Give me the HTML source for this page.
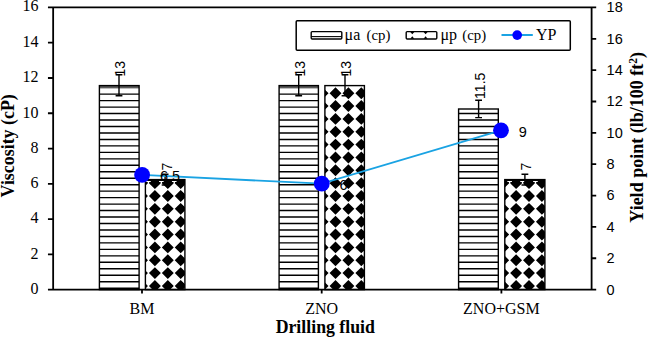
<!DOCTYPE html>
<html><head><meta charset="utf-8"><style>
html,body{margin:0;padding:0;background:#fff;}
svg{display:block;}
.serif{font-family:"Liberation Serif",serif;}
.sans{font-family:"Liberation Sans",sans-serif;}
</style></head><body>
<svg width="648" height="338" viewBox="0 0 648 338">
<defs>
<clipPath id="cp0"><rect x="145.40" y="179.60" width="39.50" height="110.00"/></clipPath>
<clipPath id="cp1"><rect x="324.90" y="85.60" width="39.50" height="204.00"/></clipPath>
<clipPath id="cp2"><rect x="504.80" y="179.60" width="40.10" height="110.00"/></clipPath>
</defs>
<rect width="648" height="338" fill="#fff"/>
<rect x="99.40" y="85.60" width="39.70" height="204.00" fill="#fff"/>
<rect x="99.40" y="85.60" width="39.70" height="2.80" fill="#5a5a5a"/>
<path d="M99.40 94.17H139.10M99.40 100.63H139.10M99.40 107.10H139.10M99.40 113.57H139.10M99.40 120.03H139.10M99.40 126.50H139.10M99.40 132.97H139.10M99.40 139.44H139.10M99.40 145.90H139.10M99.40 152.37H139.10M99.40 158.84H139.10M99.40 165.30H139.10M99.40 171.77H139.10M99.40 178.24H139.10M99.40 184.70H139.10M99.40 191.17H139.10M99.40 197.64H139.10M99.40 204.11H139.10M99.40 210.57H139.10M99.40 217.04H139.10M99.40 223.51H139.10M99.40 229.97H139.10M99.40 236.44H139.10M99.40 242.91H139.10M99.40 249.38H139.10M99.40 255.84H139.10M99.40 262.31H139.10M99.40 268.78H139.10M99.40 275.24H139.10M99.40 281.71H139.10M99.40 288.18H139.10" stroke="#000" stroke-width="1.4" fill="none"/>
<rect x="99.40" y="85.60" width="39.70" height="204.00" fill="none" stroke="#000" stroke-width="1.4"/>
<rect x="279.10" y="85.60" width="39.30" height="204.00" fill="#fff"/>
<rect x="279.10" y="85.60" width="39.30" height="2.80" fill="#5a5a5a"/>
<path d="M279.10 94.17H318.40M279.10 100.63H318.40M279.10 107.10H318.40M279.10 113.57H318.40M279.10 120.03H318.40M279.10 126.50H318.40M279.10 132.97H318.40M279.10 139.44H318.40M279.10 145.90H318.40M279.10 152.37H318.40M279.10 158.84H318.40M279.10 165.30H318.40M279.10 171.77H318.40M279.10 178.24H318.40M279.10 184.70H318.40M279.10 191.17H318.40M279.10 197.64H318.40M279.10 204.11H318.40M279.10 210.57H318.40M279.10 217.04H318.40M279.10 223.51H318.40M279.10 229.97H318.40M279.10 236.44H318.40M279.10 242.91H318.40M279.10 249.38H318.40M279.10 255.84H318.40M279.10 262.31H318.40M279.10 268.78H318.40M279.10 275.24H318.40M279.10 281.71H318.40M279.10 288.18H318.40" stroke="#000" stroke-width="1.4" fill="none"/>
<rect x="279.10" y="85.60" width="39.30" height="204.00" fill="none" stroke="#000" stroke-width="1.4"/>
<rect x="458.60" y="109.00" width="39.70" height="180.60" fill="#fff"/>
<path d="M458.60 113.57H498.30M458.60 120.03H498.30M458.60 126.50H498.30M458.60 132.97H498.30M458.60 139.44H498.30M458.60 145.90H498.30M458.60 152.37H498.30M458.60 158.84H498.30M458.60 165.30H498.30M458.60 171.77H498.30M458.60 178.24H498.30M458.60 184.70H498.30M458.60 191.17H498.30M458.60 197.64H498.30M458.60 204.11H498.30M458.60 210.57H498.30M458.60 217.04H498.30M458.60 223.51H498.30M458.60 229.97H498.30M458.60 236.44H498.30M458.60 242.91H498.30M458.60 249.38H498.30M458.60 255.84H498.30M458.60 262.31H498.30M458.60 268.78H498.30M458.60 275.24H498.30M458.60 281.71H498.30M458.60 288.18H498.30" stroke="#000" stroke-width="1.4" fill="none"/>
<rect x="458.60" y="109.00" width="39.70" height="180.60" fill="none" stroke="#000" stroke-width="1.4"/>
<rect x="145.40" y="179.60" width="39.50" height="110.00" fill="#fff"/>
<path clip-path="url(#cp0)" d="M142.00 177.20L147.95 183.15L142.00 189.10L136.05 183.15ZM142.00 190.05L147.95 196.00L142.00 201.95L136.05 196.00ZM142.00 202.90L147.95 208.85L142.00 214.80L136.05 208.85ZM142.00 215.75L147.95 221.70L142.00 227.65L136.05 221.70ZM142.00 228.60L147.95 234.55L142.00 240.50L136.05 234.55ZM142.00 241.45L147.95 247.40L142.00 253.35L136.05 247.40ZM142.00 254.30L147.95 260.25L142.00 266.20L136.05 260.25ZM142.00 267.15L147.95 273.10L142.00 279.05L136.05 273.10ZM142.00 280.00L147.95 285.95L142.00 291.90L136.05 285.95ZM154.90 177.20L160.85 183.15L154.90 189.10L148.95 183.15ZM154.90 190.05L160.85 196.00L154.90 201.95L148.95 196.00ZM154.90 202.90L160.85 208.85L154.90 214.80L148.95 208.85ZM154.90 215.75L160.85 221.70L154.90 227.65L148.95 221.70ZM154.90 228.60L160.85 234.55L154.90 240.50L148.95 234.55ZM154.90 241.45L160.85 247.40L154.90 253.35L148.95 247.40ZM154.90 254.30L160.85 260.25L154.90 266.20L148.95 260.25ZM154.90 267.15L160.85 273.10L154.90 279.05L148.95 273.10ZM154.90 280.00L160.85 285.95L154.90 291.90L148.95 285.95ZM167.80 177.20L173.75 183.15L167.80 189.10L161.85 183.15ZM167.80 190.05L173.75 196.00L167.80 201.95L161.85 196.00ZM167.80 202.90L173.75 208.85L167.80 214.80L161.85 208.85ZM167.80 215.75L173.75 221.70L167.80 227.65L161.85 221.70ZM167.80 228.60L173.75 234.55L167.80 240.50L161.85 234.55ZM167.80 241.45L173.75 247.40L167.80 253.35L161.85 247.40ZM167.80 254.30L173.75 260.25L167.80 266.20L161.85 260.25ZM167.80 267.15L173.75 273.10L167.80 279.05L161.85 273.10ZM167.80 280.00L173.75 285.95L167.80 291.90L161.85 285.95ZM180.70 177.20L186.65 183.15L180.70 189.10L174.75 183.15ZM180.70 190.05L186.65 196.00L180.70 201.95L174.75 196.00ZM180.70 202.90L186.65 208.85L180.70 214.80L174.75 208.85ZM180.70 215.75L186.65 221.70L180.70 227.65L174.75 221.70ZM180.70 228.60L186.65 234.55L180.70 240.50L174.75 234.55ZM180.70 241.45L186.65 247.40L180.70 253.35L174.75 247.40ZM180.70 254.30L186.65 260.25L180.70 266.20L174.75 260.25ZM180.70 267.15L186.65 273.10L180.70 279.05L174.75 273.10ZM180.70 280.00L186.65 285.95L180.70 291.90L174.75 285.95Z" fill="#000"/>
<rect x="145.40" y="179.60" width="39.50" height="3.5" fill="#000"/>
<path clip-path="url(#cp0)" d="M146.15 180.9h4.6v1.1h-1.6v1.6h-1.4v-1.6h-1.6ZM159.05 180.9h4.6v1.1h-1.6v1.6h-1.4v-1.6h-1.6ZM171.95 180.9h4.6v1.1h-1.6v1.6h-1.4v-1.6h-1.6Z" fill="#fff"/>
<rect x="145.40" y="179.60" width="39.50" height="110.00" fill="none" stroke="#000" stroke-width="1.4"/>
<rect x="324.90" y="85.60" width="39.50" height="204.00" fill="#fff"/>
<path clip-path="url(#cp1)" d="M322.60 74.40L328.55 80.35L322.60 86.30L316.65 80.35ZM322.60 87.25L328.55 93.20L322.60 99.15L316.65 93.20ZM322.60 100.10L328.55 106.05L322.60 112.00L316.65 106.05ZM322.60 112.95L328.55 118.90L322.60 124.85L316.65 118.90ZM322.60 125.80L328.55 131.75L322.60 137.70L316.65 131.75ZM322.60 138.65L328.55 144.60L322.60 150.55L316.65 144.60ZM322.60 151.50L328.55 157.45L322.60 163.40L316.65 157.45ZM322.60 164.35L328.55 170.30L322.60 176.25L316.65 170.30ZM322.60 177.20L328.55 183.15L322.60 189.10L316.65 183.15ZM322.60 190.05L328.55 196.00L322.60 201.95L316.65 196.00ZM322.60 202.90L328.55 208.85L322.60 214.80L316.65 208.85ZM322.60 215.75L328.55 221.70L322.60 227.65L316.65 221.70ZM322.60 228.60L328.55 234.55L322.60 240.50L316.65 234.55ZM322.60 241.45L328.55 247.40L322.60 253.35L316.65 247.40ZM322.60 254.30L328.55 260.25L322.60 266.20L316.65 260.25ZM322.60 267.15L328.55 273.10L322.60 279.05L316.65 273.10ZM322.60 280.00L328.55 285.95L322.60 291.90L316.65 285.95ZM335.50 74.40L341.45 80.35L335.50 86.30L329.55 80.35ZM335.50 87.25L341.45 93.20L335.50 99.15L329.55 93.20ZM335.50 100.10L341.45 106.05L335.50 112.00L329.55 106.05ZM335.50 112.95L341.45 118.90L335.50 124.85L329.55 118.90ZM335.50 125.80L341.45 131.75L335.50 137.70L329.55 131.75ZM335.50 138.65L341.45 144.60L335.50 150.55L329.55 144.60ZM335.50 151.50L341.45 157.45L335.50 163.40L329.55 157.45ZM335.50 164.35L341.45 170.30L335.50 176.25L329.55 170.30ZM335.50 177.20L341.45 183.15L335.50 189.10L329.55 183.15ZM335.50 190.05L341.45 196.00L335.50 201.95L329.55 196.00ZM335.50 202.90L341.45 208.85L335.50 214.80L329.55 208.85ZM335.50 215.75L341.45 221.70L335.50 227.65L329.55 221.70ZM335.50 228.60L341.45 234.55L335.50 240.50L329.55 234.55ZM335.50 241.45L341.45 247.40L335.50 253.35L329.55 247.40ZM335.50 254.30L341.45 260.25L335.50 266.20L329.55 260.25ZM335.50 267.15L341.45 273.10L335.50 279.05L329.55 273.10ZM335.50 280.00L341.45 285.95L335.50 291.90L329.55 285.95ZM348.40 74.40L354.35 80.35L348.40 86.30L342.45 80.35ZM348.40 87.25L354.35 93.20L348.40 99.15L342.45 93.20ZM348.40 100.10L354.35 106.05L348.40 112.00L342.45 106.05ZM348.40 112.95L354.35 118.90L348.40 124.85L342.45 118.90ZM348.40 125.80L354.35 131.75L348.40 137.70L342.45 131.75ZM348.40 138.65L354.35 144.60L348.40 150.55L342.45 144.60ZM348.40 151.50L354.35 157.45L348.40 163.40L342.45 157.45ZM348.40 164.35L354.35 170.30L348.40 176.25L342.45 170.30ZM348.40 177.20L354.35 183.15L348.40 189.10L342.45 183.15ZM348.40 190.05L354.35 196.00L348.40 201.95L342.45 196.00ZM348.40 202.90L354.35 208.85L348.40 214.80L342.45 208.85ZM348.40 215.75L354.35 221.70L348.40 227.65L342.45 221.70ZM348.40 228.60L354.35 234.55L348.40 240.50L342.45 234.55ZM348.40 241.45L354.35 247.40L348.40 253.35L342.45 247.40ZM348.40 254.30L354.35 260.25L348.40 266.20L342.45 260.25ZM348.40 267.15L354.35 273.10L348.40 279.05L342.45 273.10ZM348.40 280.00L354.35 285.95L348.40 291.90L342.45 285.95ZM361.30 74.40L367.25 80.35L361.30 86.30L355.35 80.35ZM361.30 87.25L367.25 93.20L361.30 99.15L355.35 93.20ZM361.30 100.10L367.25 106.05L361.30 112.00L355.35 106.05ZM361.30 112.95L367.25 118.90L361.30 124.85L355.35 118.90ZM361.30 125.80L367.25 131.75L361.30 137.70L355.35 131.75ZM361.30 138.65L367.25 144.60L361.30 150.55L355.35 144.60ZM361.30 151.50L367.25 157.45L361.30 163.40L355.35 157.45ZM361.30 164.35L367.25 170.30L361.30 176.25L355.35 170.30ZM361.30 177.20L367.25 183.15L361.30 189.10L355.35 183.15ZM361.30 190.05L367.25 196.00L361.30 201.95L355.35 196.00ZM361.30 202.90L367.25 208.85L361.30 214.80L355.35 208.85ZM361.30 215.75L367.25 221.70L361.30 227.65L355.35 221.70ZM361.30 228.60L367.25 234.55L361.30 240.50L355.35 234.55ZM361.30 241.45L367.25 247.40L361.30 253.35L355.35 247.40ZM361.30 254.30L367.25 260.25L361.30 266.20L355.35 260.25ZM361.30 267.15L367.25 273.10L361.30 279.05L355.35 273.10ZM361.30 280.00L367.25 285.95L361.30 291.90L355.35 285.95Z" fill="#000"/>
<rect x="324.90" y="85.60" width="39.50" height="204.00" fill="none" stroke="#000" stroke-width="1.4"/>
<rect x="504.80" y="179.60" width="40.10" height="110.00" fill="#fff"/>
<path clip-path="url(#cp2)" d="M503.20 177.20L509.15 183.15L503.20 189.10L497.25 183.15ZM503.20 190.05L509.15 196.00L503.20 201.95L497.25 196.00ZM503.20 202.90L509.15 208.85L503.20 214.80L497.25 208.85ZM503.20 215.75L509.15 221.70L503.20 227.65L497.25 221.70ZM503.20 228.60L509.15 234.55L503.20 240.50L497.25 234.55ZM503.20 241.45L509.15 247.40L503.20 253.35L497.25 247.40ZM503.20 254.30L509.15 260.25L503.20 266.20L497.25 260.25ZM503.20 267.15L509.15 273.10L503.20 279.05L497.25 273.10ZM503.20 280.00L509.15 285.95L503.20 291.90L497.25 285.95ZM516.10 177.20L522.05 183.15L516.10 189.10L510.15 183.15ZM516.10 190.05L522.05 196.00L516.10 201.95L510.15 196.00ZM516.10 202.90L522.05 208.85L516.10 214.80L510.15 208.85ZM516.10 215.75L522.05 221.70L516.10 227.65L510.15 221.70ZM516.10 228.60L522.05 234.55L516.10 240.50L510.15 234.55ZM516.10 241.45L522.05 247.40L516.10 253.35L510.15 247.40ZM516.10 254.30L522.05 260.25L516.10 266.20L510.15 260.25ZM516.10 267.15L522.05 273.10L516.10 279.05L510.15 273.10ZM516.10 280.00L522.05 285.95L516.10 291.90L510.15 285.95ZM529.00 177.20L534.95 183.15L529.00 189.10L523.05 183.15ZM529.00 190.05L534.95 196.00L529.00 201.95L523.05 196.00ZM529.00 202.90L534.95 208.85L529.00 214.80L523.05 208.85ZM529.00 215.75L534.95 221.70L529.00 227.65L523.05 221.70ZM529.00 228.60L534.95 234.55L529.00 240.50L523.05 234.55ZM529.00 241.45L534.95 247.40L529.00 253.35L523.05 247.40ZM529.00 254.30L534.95 260.25L529.00 266.20L523.05 260.25ZM529.00 267.15L534.95 273.10L529.00 279.05L523.05 273.10ZM529.00 280.00L534.95 285.95L529.00 291.90L523.05 285.95ZM541.90 177.20L547.85 183.15L541.90 189.10L535.95 183.15ZM541.90 190.05L547.85 196.00L541.90 201.95L535.95 196.00ZM541.90 202.90L547.85 208.85L541.90 214.80L535.95 208.85ZM541.90 215.75L547.85 221.70L541.90 227.65L535.95 221.70ZM541.90 228.60L547.85 234.55L541.90 240.50L535.95 234.55ZM541.90 241.45L547.85 247.40L541.90 253.35L535.95 247.40ZM541.90 254.30L547.85 260.25L541.90 266.20L535.95 260.25ZM541.90 267.15L547.85 273.10L541.90 279.05L535.95 273.10ZM541.90 280.00L547.85 285.95L541.90 291.90L535.95 285.95Z" fill="#000"/>
<rect x="504.80" y="179.60" width="40.10" height="3.5" fill="#000"/>
<path clip-path="url(#cp2)" d="M507.35 180.9h4.6v1.1h-1.6v1.6h-1.4v-1.6h-1.6ZM520.25 180.9h4.6v1.1h-1.6v1.6h-1.4v-1.6h-1.6ZM533.15 180.9h4.6v1.1h-1.6v1.6h-1.4v-1.6h-1.6Z" fill="#fff"/>
<rect x="504.80" y="179.60" width="40.10" height="110.00" fill="none" stroke="#000" stroke-width="1.4"/>
<path d="M119.00 74.80V95.70M115.60 74.80H122.40M115.60 95.70H122.40" stroke="#000" stroke-width="1.4" fill="none"/>
<path d="M298.70 74.80V95.70M295.30 74.80H302.10M295.30 95.70H302.10" stroke="#000" stroke-width="1.4" fill="none"/>
<path d="M478.60 100.30V117.60M475.20 100.30H482.00M475.20 117.60H482.00" stroke="#000" stroke-width="1.4" fill="none"/>
<path d="M165.10 174.20V185.00M161.70 174.20H168.50M161.70 185.00H168.50" stroke="#000" stroke-width="1.4" fill="none"/>
<path d="M345.00 74.80V95.70M341.60 74.80H348.40M341.60 95.70H348.40" stroke="#000" stroke-width="1.4" fill="none"/>
<path d="M524.90 174.30V185.00M521.50 174.30H528.30M521.50 185.00H528.30" stroke="#000" stroke-width="1.4" fill="none"/>
<path d="M47.95 7.45H596.20M53.15 7.45V289.60M591.60 7.45V289.60M47.95 289.60H596.20M47.95 254.33H53.15M47.95 219.06H53.15M47.95 183.79H53.15M47.95 148.53H53.15M47.95 113.26H53.15M47.95 77.99H53.15M47.95 42.72H53.15M591.60 258.25H596.20M591.60 226.90H596.20M591.60 195.55H596.20M591.60 164.20H596.20M591.60 132.85H596.20M591.60 101.50H596.20M591.60 70.15H596.20M591.60 38.80H596.20M142.00 289.60V293.60M321.70 289.60V293.60M501.40 289.60V293.60" stroke="#000" stroke-width="1.8" fill="none"/>
<polyline points="142.10,174.90 321.80,183.70 501.00,130.30" stroke="#1aa3e3" stroke-width="1.8" fill="none"/>
<circle cx="142.10" cy="174.90" r="7.9" fill="#0000ff"/>
<circle cx="321.80" cy="183.70" r="7.9" fill="#0000ff"/>
<circle cx="501.00" cy="130.30" r="7.9" fill="#0000ff"/>
<text class="serif" x="38.4" y="294.00" font-size="16" text-anchor="end">0</text>
<text class="serif" x="38.4" y="258.73" font-size="16" text-anchor="end">2</text>
<text class="serif" x="38.4" y="223.46" font-size="16" text-anchor="end">4</text>
<text class="serif" x="38.4" y="188.19" font-size="16" text-anchor="end">6</text>
<text class="serif" x="38.4" y="152.93" font-size="16" text-anchor="end">8</text>
<text class="serif" x="38.4" y="117.66" font-size="16" text-anchor="end">10</text>
<text class="serif" x="38.4" y="82.39" font-size="16" text-anchor="end">12</text>
<text class="serif" x="38.4" y="47.12" font-size="16" text-anchor="end">14</text>
<text class="serif" x="38.4" y="11.05" font-size="16" text-anchor="end">16</text>
<text class="sans" x="606.6" y="294.50" font-size="14.5">0</text>
<text class="sans" x="606.6" y="263.15" font-size="14.5">2</text>
<text class="sans" x="606.6" y="231.80" font-size="14.5">4</text>
<text class="sans" x="606.6" y="200.45" font-size="14.5">6</text>
<text class="sans" x="606.6" y="169.10" font-size="14.5">8</text>
<text class="sans" x="606.6" y="137.75" font-size="14.5">10</text>
<text class="sans" x="606.6" y="106.40" font-size="14.5">12</text>
<text class="sans" x="606.6" y="75.05" font-size="14.5">14</text>
<text class="sans" x="606.6" y="43.70" font-size="14.5">16</text>
<text class="sans" x="606.6" y="12.35" font-size="14.5">18</text>
<text class="serif" x="142.00" y="313.8" font-size="16" text-anchor="middle">BM</text>
<text class="serif" x="321.70" y="313.8" font-size="16" text-anchor="middle">ZNO</text>
<text class="serif" x="501.40" y="313.8" font-size="16" text-anchor="middle">ZNO+GSM</text>
<text class="serif" x="325.3" y="332.8" font-size="17.8" font-weight="bold" text-anchor="middle">Drilling fluid</text>
<text class="serif" font-size="17.9" font-weight="bold" text-anchor="middle" transform="translate(13.5,145.8) rotate(-90)">Viscosity (cP)</text>
<text class="serif" font-size="18" font-weight="bold" text-anchor="middle" transform="translate(643.2,137.4) rotate(-90)">Yield point (lb/100 ft<tspan font-size="11.5" dy="-6.5">2</tspan><tspan dy="6.5">)</tspan></text>
<text class="sans" font-size="14" transform="translate(125.40,76.50) rotate(-90)">13</text>
<text class="sans" font-size="14" transform="translate(171.80,170.40) rotate(-90)">7</text>
<text class="sans" font-size="14" transform="translate(305.00,76.50) rotate(-90)">13</text>
<text class="sans" font-size="14" transform="translate(351.40,76.50) rotate(-90)">13</text>
<text class="sans" font-size="14" transform="translate(484.50,98.90) rotate(-90)">11.5</text>
<text class="sans" font-size="14" transform="translate(530.80,170.40) rotate(-90)">7</text>
<text class="sans" font-size="14.5" x="159.90" y="181.20">6.5</text>
<text class="sans" font-size="14.5" x="339.60" y="190.00">6</text>
<text class="sans" font-size="14.5" x="518.80" y="136.60">9</text>
<rect x="296.2" y="20.7" width="274.1" height="29.6" rx="1" fill="#fff" stroke="#000" stroke-width="1.5"/>
<rect x="311.2" y="31.6" width="30.6" height="7.4" rx="1" fill="#fff" stroke="#000" stroke-width="1.4"/>
<line x1="311.2" y1="36.6" x2="341.8" y2="36.6" stroke="#000" stroke-width="1.1"/>
<text class="serif" x="344.6" y="39.5" font-size="16">μa</text>
<text class="serif" x="366.5" y="39.5" font-size="14.8">(cp)</text>
<rect x="406.2" y="31.6" width="30.6" height="7.4" rx="1" fill="#fff" stroke="#000" stroke-width="1.4"/>
<path d="M410.30 31.9L414.30 31.9L412.30 34.2ZM410.30 38.7L414.30 38.7L412.30 36.2Z" fill="#000"/>
<path d="M423.60 31.9L427.60 31.9L425.60 34.2ZM423.60 38.7L427.60 38.7L425.60 36.2Z" fill="#000"/>
<text class="serif" x="440.4" y="39.5" font-size="16">μp</text>
<text class="serif" x="462.3" y="39.5" font-size="14.8">(cp)</text>
<line x1="501.5" y1="35" x2="532.8" y2="35" stroke="#1aa3e3" stroke-width="2"/>
<circle cx="517.2" cy="35.1" r="4.85" fill="#0000ff"/>
<text class="serif" x="536" y="39.7" font-size="16">YP</text>
</svg></body></html>
